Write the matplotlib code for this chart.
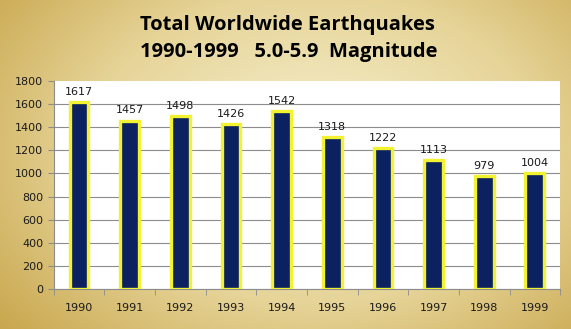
import matplotlib.pyplot as plt
import numpy as np
from matplotlib.colors import LinearSegmentedColormap

# yearly counts of magnitude 5.0-5.9 quakes
years = ['1990', '1991', '1992', '1993', '1994', '1995', '1996', '1997', '1998', '1999']
counts = [1617, 1457, 1498, 1426, 1542, 1318, 1222, 1113, 979, 1004]

fig = plt.figure(figsize=(5.71, 3.29), dpi=100)

# golden background, lighter towards the middle
bg = fig.add_axes([0, 0, 1, 1], zorder=0)
yy, xx = np.mgrid[0:1:200j, 0:1:300j]
r = np.sqrt(((xx - 0.55) / 0.75) ** 2 + ((yy - 0.55) / 0.9) ** 2)
gold = LinearSegmentedColormap.from_list('gold', ['#f4ecc6', '#e6d498', '#c9a74e'])
bg.imshow(r, cmap=gold, aspect='auto', extent=[0, 1, 0, 1], origin='lower', vmin=0.1, vmax=0.95)
bg.axis('off')

ax = fig.add_axes([0.094, 0.1216, 0.887, 0.632], zorder=1)
ax.set_facecolor('white')
x = np.arange(len(years))
ax.bar(x, counts, width=0.37, color='#0c2160', edgecolor='#f2f230', linewidth=2.4, zorder=3)
for xi, c in zip(x, counts):
    ax.text(xi, c + 45, str(c), ha='center', va='bottom', fontsize=8, color='#1a1a1a', zorder=4)

ax.set_xlim(-0.5, len(years) - 0.5)
ax.set_ylim(0, 1800)
ax.set_yticks(range(0, 1801, 200))
ax.set_xticks(x)
ax.set_xticklabels(years)
ax.yaxis.grid(True, color='#8c8c8c', linewidth=0.8, zorder=0)
ax.get_ygridlines()[-1].set_visible(False)
ax.set_axisbelow(True)
for side in ['top', 'right']:
    ax.spines[side].set_visible(False)
ax.spines['left'].set_color('#8c8c8c')
ax.spines['bottom'].set_color('#8c8c8c')
ax.set_xticks(np.arange(-0.5, len(years)), minor=True)
ax.tick_params(axis='x', which='major', length=0, pad=10, labelsize=8, labelcolor='#1a1a1a')
ax.tick_params(axis='x', which='minor', length=4, color='#8c8c8c')
ax.tick_params(axis='y', length=4, color='#8c8c8c', labelsize=8, labelcolor='#1a1a1a')

fig.text(0.504, 0.925, 'Total Worldwide Earthquakes', ha='center', va='center',
         fontsize=14.5, fontweight='bold', family='Open Sans')
fig.text(0.505, 0.843, '1990-1999   5.0-5.9  Magnitude', ha='center', va='center',
         fontsize=14.5, fontweight='bold', family='Open Sans')

fig.savefig('out.png', dpi=100)
